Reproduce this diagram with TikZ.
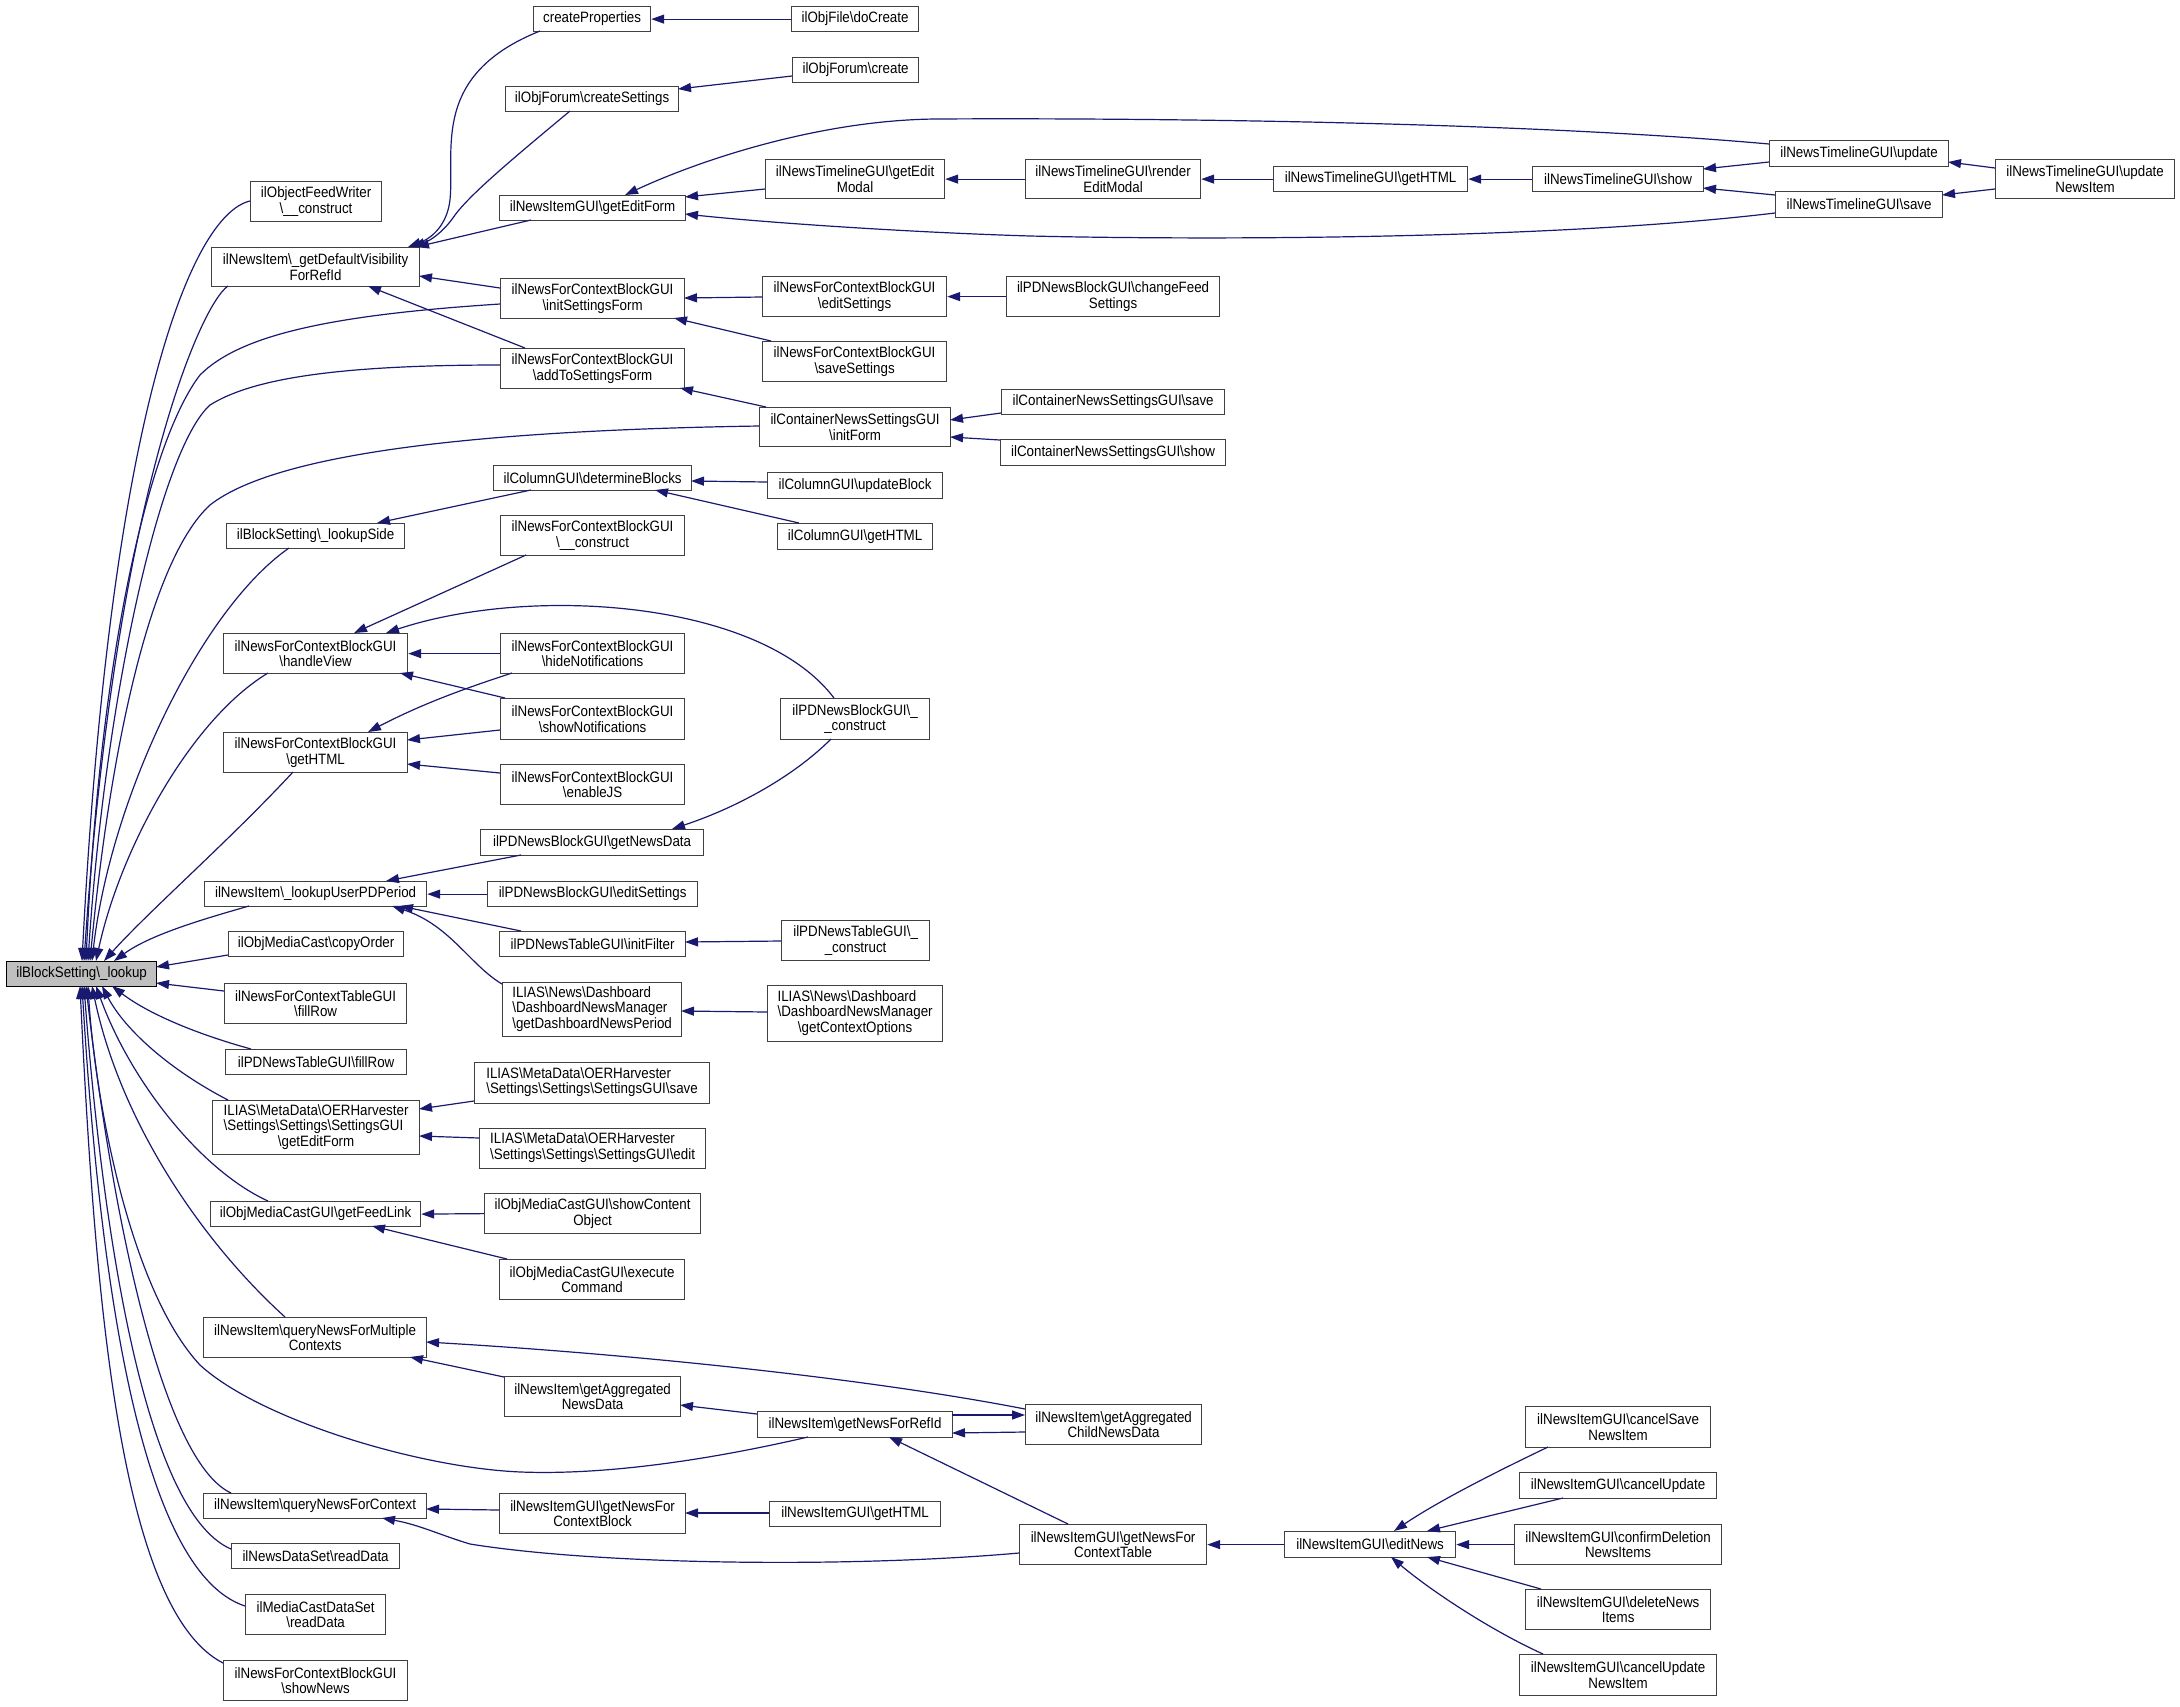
\documentclass[tikz,border=0pt]{standalone}
\usepackage{fontspec}
\setmainfont{Liberation Sans}[FakeStretch=0.89]
\usetikzlibrary{arrows.meta}
\definecolor{edgec}{HTML}{191970}
\definecolor{boxc}{HTML}{404040}
\definecolor{lkgray}{HTML}{BFBFBF}
\newcommand{\BK}{\textbackslash}
\newcommand{\bx}[7][]{\node[box,#1,minimum width={(#5-#3)*1pt},minimum height={(#6-#4)*1pt}] (#2) at (#3,#4) {#7};}
\tikzset{
  box/.style={draw=boxc, line width=1.2pt, fill=white, anchor=north west, inner sep=0pt, align=center, font=\fontsize{15}{15.5}\selectfont},
  e/.style={draw=edgec, line width=1.2pt, -{Triangle[length=13pt,width=9pt]}}
}
\begin{document}
\begin{tikzpicture}[x=1pt,y=-1pt]
\useasboundingbox (0,0) rectangle (2180,1706);
% nodes
\bx[fill=lkgray,draw=black]{lk}{6}{961}{156}{986}{ilBlockSetting\BK\_lookup}
\bx{fw}{250}{181}{381}{221}{ilObjectFeedWriter\\\BK\_\_construct}
\bx{gdv}{211}{247}{419}{286}{ilNewsItem\BK\_getDefaultVisibility\\ForRefId}
\bx{cp}{533}{6}{650}{31}{createProperties}
\bx{cs}{505}{86}{678}{111}{ilObjForum\BK createSettings}
\bx{gef}{499}{195}{685}{220}{ilNewsItemGUI\BK getEditForm}
\bx{isf}{500}{278}{684}{318}{ilNewsForContextBlockGUI\\\BK initSettingsForm}
\bx{atsf}{500}{348}{684}{388}{ilNewsForContextBlockGUI\\\BK addToSettingsForm}
\bx{db}{493}{465}{691}{490}{ilColumnGUI\BK determineBlocks}
\bx{ls}{226}{523}{404}{548}{ilBlockSetting\BK\_lookupSide}
\bx{nfcc}{500}{515}{684}{555}{ilNewsForContextBlockGUI\\\BK\_\_construct}
\bx{dc}{791}{6}{918}{31}{ilObjFile\BK doCreate}
\bx{fc}{792}{57}{918}{82}{ilObjForum\BK create}
\bx{gem}{765}{159}{944}{198}{ilNewsTimelineGUI\BK getEdit\\Modal}
\bx{rem}{1025}{159}{1200}{198}{ilNewsTimelineGUI\BK render\\EditModal}
\bx{ntgh}{1273}{166}{1467}{191}{ilNewsTimelineGUI\BK getHTML}
\bx{nts}{1532}{166}{1703}{191}{ilNewsTimelineGUI\BK show}
\bx{ntu}{1769}{140}{1948}{166}{ilNewsTimelineGUI\BK update}
\bx{ntsv}{1775}{191}{1942}{217}{ilNewsTimelineGUI\BK save}
\bx{ntuni}{1995}{159}{2174}{198}{ilNewsTimelineGUI\BK update\\NewsItem}
\bx{es}{762}{276}{946}{316}{ilNewsForContextBlockGUI\\\BK editSettings}
\bx{cfs}{1006}{276}{1219}{316}{ilPDNewsBlockGUI\BK changeFeed\\Settings}
\bx{ss}{762}{341}{946}{381}{ilNewsForContextBlockGUI\\\BK saveSettings}
\bx{cif}{759}{407}{950}{446}{ilContainerNewsSettingsGUI\\\BK initForm}
\bx{csave}{1001}{389}{1224}{414}{ilContainerNewsSettingsGUI\BK save}
\bx{cshow}{1000}{439}{1225}{465}{ilContainerNewsSettingsGUI\BK show}
\bx{ub}{767}{472}{942}{498}{ilColumnGUI\BK updateBlock}
\bx{cgh}{777}{523}{932}{549}{ilColumnGUI\BK getHTML}
\bx{hv}{223}{633}{407}{673}{ilNewsForContextBlockGUI\\\BK handleView}
\bx{hn}{500}{633}{684}{673}{ilNewsForContextBlockGUI\\\BK hideNotifications}
\bx{sn}{500}{698}{684}{739}{ilNewsForContextBlockGUI\\\BK showNotifications}
\bx{gh}{223}{732}{407}{772}{ilNewsForContextBlockGUI\\\BK getHTML}
\bx{ejs}{500}{764}{684}{804}{ilNewsForContextBlockGUI\\\BK enableJS}
\bx{pdc}{780}{698}{929}{739}{ilPDNewsBlockGUI\BK\_\\\_construct}
\bx{gnd}{480}{829}{703}{855}{ilPDNewsBlockGUI\BK getNewsData}
\bx{lup}{204}{881}{426}{906}{ilNewsItem\BK\_lookupUserPDPeriod}
\bx{pdes}{487}{881}{697}{906}{ilPDNewsBlockGUI\BK editSettings}
\bx{co}{228}{931}{403}{956}{ilObjMediaCast\BK copyOrder}
\bx{inf}{499}{931}{685}{956}{ilPDNewsTableGUI\BK initFilter}
\bx{ptc}{781}{920}{929}{960}{ilPDNewsTableGUI\BK\_\\\_construct}
\bx{nfr}{224}{983}{406}{1023}{ilNewsForContextTableGUI\\\BK fillRow}
\bx{gdnp}{502}{982}{681}{1036}{\begin{tabular}{@{}l@{}}ILIAS\BK News\BK Dashboard\\\BK DashboardNewsManager\\\BK getDashboardNewsPeriod\end{tabular}}
\bx{gcopt}{767}{985}{942}{1041}{\begin{tabular}{@{}l@{}}ILIAS\BK News\BK Dashboard\\\BK DashboardNewsManager\\\multicolumn{1}{@{}c@{}}{\BK getContextOptions}\end{tabular}}
\bx{pfr}{225}{1049}{406}{1074}{ilPDNewsTableGUI\BK fillRow}
\bx{oers}{474}{1062}{709}{1103}{\begin{tabular}{@{}l@{}}ILIAS\BK MetaData\BK OERHarvester\\\BK Settings\BK Settings\BK SettingsGUI\BK save\end{tabular}}
\bx{oege}{212}{1100}{419}{1154}{\begin{tabular}{@{}l@{}}ILIAS\BK MetaData\BK OERHarvester\\\BK Settings\BK Settings\BK SettingsGUI\\\multicolumn{1}{@{}c@{}}{\BK getEditForm}\end{tabular}}
\bx{oee}{479}{1128}{705}{1168}{\begin{tabular}{@{}l@{}}ILIAS\BK MetaData\BK OERHarvester\\\BK Settings\BK Settings\BK SettingsGUI\BK edit\end{tabular}}
\bx{gfl}{210}{1201}{420}{1226}{ilObjMediaCastGUI\BK getFeedLink}
\bx{sco}{484}{1193}{700}{1233}{ilObjMediaCastGUI\BK showContent\\Object}
\bx{ec}{499}{1259}{684}{1299}{ilObjMediaCastGUI\BK execute\\Command}
\bx{qnfm}{203}{1317}{426}{1357}{ilNewsItem\BK queryNewsForMultiple\\Contexts}
\bx{gand}{504}{1376}{680}{1416}{ilNewsItem\BK getAggregated\\NewsData}
\bx{gnfr}{757}{1411}{952}{1437}{ilNewsItem\BK getNewsForRefId}
\bx{gacnd}{1025}{1404}{1201}{1444}{ilNewsItem\BK getAggregated\\ChildNewsData}
\bx{qnfc}{203}{1493}{426}{1518}{ilNewsItem\BK queryNewsForContext}
\bx{gnfcb}{499}{1493}{685}{1533}{ilNewsItemGUI\BK getNewsFor\\ContextBlock}
\bx{nigh}{769}{1501}{940}{1526}{ilNewsItemGUI\BK getHTML}
\bx{gnfct}{1019}{1524}{1206}{1564}{ilNewsItemGUI\BK getNewsFor\\ContextTable}
\bx{en}{1284}{1531}{1455}{1557}{ilNewsItemGUI\BK editNews}
\bx{csn}{1525}{1406}{1710}{1447}{ilNewsItemGUI\BK cancelSave\\NewsItem}
\bx{cu}{1519}{1472}{1716}{1498}{ilNewsItemGUI\BK cancelUpdate}
\bx{cdn}{1514}{1524}{1721}{1564}{ilNewsItemGUI\BK confirmDeletion\\NewsItems}
\bx{dni}{1525}{1589}{1710}{1629}{ilNewsItemGUI\BK deleteNews\\Items}
\bx{cuni}{1519}{1654}{1716}{1695}{ilNewsItemGUI\BK cancelUpdate\\NewsItem}
\bx{ndr}{231}{1543}{399}{1568}{ilNewsDataSet\BK readData}
\bx{mcr}{245}{1594}{385}{1634}{ilMediaCastDataSet\\\BK readData}
\bx{snw}{223}{1660}{407}{1700}{ilNewsForContextBlockGUI\\\BK showNews}
% edges into lookup (from above)
\draw[e] ([shift={(0,20)}]fw.north west) .. controls (190,215) and (110,420) .. ([shift={(76,0)}]lk.north west);
\draw[e] ([shift={(17,39)}]gdv.north west) .. controls (200,305) and (115,500) .. ([shift={(78,0)}]lk.north west);
\draw[e] ([shift={(0,26)}]isf.north west) .. controls (330,315) and (240,335) .. (200,375) .. controls (150,440) and (100,650) .. ([shift={(80,0)}]lk.north west);
\draw[e] ([shift={(0,17)}]atsf.north west) .. controls (330,365) and (250,380) .. (210,405) .. controls (160,450) and (105,700) .. ([shift={(82,0)}]lk.north west);
\draw[e] ([shift={(0,19)}]cif.north west) .. controls (500,430) and (280,450) .. (210,505) .. controls (150,560) and (110,750) .. ([shift={(84,0)}]lk.north west);
\draw[e] ([shift={(63,25)}]ls.north west) .. controls (200,610) and (110,800) .. ([shift={(86,0)}]lk.north west);
\draw[e] ([shift={(45,40)}]hv.north west) .. controls (190,720) and (120,850) .. ([shift={(90,0)}]lk.north west);
\draw[e] ([shift={(70,40)}]gh.north west) .. controls (230,840) and (150,910) .. ([shift={(98,0)}]lk.north west);
\draw[e] ([shift={(45,25)}]lup.north west) .. controls (200,920) and (150,935) .. ([shift={(108,0)}]lk.north west);
\draw[e] ([shift={(0,24)}]co.north west) -- ([shift={(150,6)}]lk.north west);
\draw[e] ([shift={(0,8)}]nfr.north west) -- ([shift={(150,22)}]lk.north west);
% edges into lookup (from below)
\draw[e] ([shift={(26,0)}]pfr.north west) .. controls (200,1035) and (150,1015) .. ([shift={(106,25)}]lk.north west);
\draw[e] ([shift={(16,0)}]oege.north west) .. controls (170,1070) and (125,1030) .. ([shift={(96,25)}]lk.north west);
\draw[e] ([shift={(58,0)}]gfl.north west) .. controls (200,1170) and (130,1080) .. ([shift={(90,25)}]lk.north west);
\draw[e] ([shift={(82,0)}]qnfm.north west) .. controls (200,1240) and (120,1120) .. ([shift={(86,25)}]lk.north west);
\draw[e] ([shift={(51,26)}]gnfr.north west) .. controls (700,1462) and (600,1475) .. (521,1472) .. controls (420,1468) and (260,1420) .. (200,1365) .. controls (130,1290) and (95,1100) .. ([shift={(82,25)}]lk.north west);
\draw[e] ([shift={(28,0)}]qnfc.north west) .. controls (160,1460) and (110,1200) .. ([shift={(80,25)}]lk.north west);
\draw[e] ([shift={(0,6)}]ndr.north west) .. controls (140,1510) and (100,1200) .. ([shift={(78,25)}]lk.north west);
\draw[e] ([shift={(0,12)}]mcr.north west) .. controls (135,1570) and (98,1250) .. ([shift={(76,25)}]lk.north west);
\draw[e] ([shift={(0,3)}]snw.north west) .. controls (120,1610) and (95,1300) .. ([shift={(74,25)}]lk.north west);
% getDefaultVisibility
\draw[e] ([shift={(7,25)}]cp.north west) .. controls (430,75) and (455,150) .. (450,200) .. controls (447,225) and (432,238) .. ([shift={(197,0)}]gdv.north west);
\draw[e] ([shift={(65,25)}]cs.north west) .. controls (505,165) and (470,195) .. (455,215) .. controls (445,230) and (432,240) .. ([shift={(201,0)}]gdv.north west);
\draw[e] ([shift={(32,25)}]gef.north west) -- ([shift={(205,0)}]gdv.north west);
\draw[e] ([shift={(0,10)}]isf.north west) -- ([shift={(208,29)}]gdv.north west);
\draw[e] ([shift={(25,0)}]atsf.north west) -- ([shift={(157,39)}]gdv.north west);
% top right region
\draw[e] (dc.west) -- (cp.east);
\draw[e] ([shift={(0,19)}]fc.north west) -- ([shift={(173,3)}]cs.north west);
\draw[e] ([shift={(0,30)}]gem.north west) -- ([shift={(186,2)}]gef.north west);
\draw[e] ([shift={(0,4)}]ntu.north west) .. controls (1500,120) and (1100,118) .. (936,119) .. controls (820,120) and (700,160) .. ([shift={(126,0)}]gef.north west);
\draw[e] ([shift={(0,22)}]ntsv.north west) .. controls (1550,240) and (1200,240) .. (1030,236) .. controls (900,232) and (760,222) .. ([shift={(186,19)}]gef.north west);
\draw[e] (rem.west) -- (gem.east);
\draw[e] (ntgh.west) -- (rem.east);
\draw[e] (nts.west) -- (ntgh.east);
\draw[e] ([shift={(0,22)}]ntu.north west) -- ([shift={(171,3)}]nts.north west);
\draw[e] ([shift={(0,4)}]ntsv.north west) -- ([shift={(171,22)}]nts.north west);
\draw[e] ([shift={(0,9)}]ntuni.north west) -- ([shift={(179,22)}]ntu.north west);
\draw[e] ([shift={(0,30)}]ntuni.north west) -- ([shift={(167,4)}]ntsv.north west);
\draw[e] ([shift={(0,21)}]es.north west) -- ([shift={(184,20)}]isf.north west);
\draw[e] ([shift={(9,0)}]ss.north west) -- ([shift={(174,40)}]isf.north west);
\draw[e] (cfs.west) -- (es.east);
\draw[e] ([shift={(7,0)}]cif.north west) -- ([shift={(180,40)}]atsf.north west);
\draw[e] ([shift={(0,24)}]csave.north west) -- ([shift={(191,13)}]cif.north west);
\draw[e] ([shift={(0,1)}]cshow.north west) -- ([shift={(191,30)}]cif.north west);
\draw[e] ([shift={(0,10)}]ub.north west) -- ([shift={(198,16)}]db.north west);
\draw[e] ([shift={(22,0)}]cgh.north west) -- ([shift={(162,25)}]db.north west);
\draw[e] ([shift={(38,25)}]db.north west) -- ([shift={(151,0)}]ls.north west);
% handleView / getHTML
\draw[e] ([shift={(26,40)}]nfcc.north west) -- ([shift={(131,0)}]hv.north west);
\draw[e] (hn.west) -- (hv.east);
\draw[e] ([shift={(5,0)}]sn.north west) -- ([shift={(177,40)}]hv.north west);
\draw[e] ([shift={(54,0)}]pdc.north west) .. controls (760,600) and (530,585) .. ([shift={(163,0)}]hv.north west);
\draw[e] ([shift={(12,40)}]hn.north west) .. controls (460,690) and (420,705) .. ([shift={(145,0)}]gh.north west);
\draw[e] ([shift={(0,32)}]sn.north west) -- ([shift={(184,8)}]gh.north west);
\draw[e] ([shift={(0,9)}]ejs.north west) -- ([shift={(184,32)}]gh.north west);
\draw[e] ([shift={(51,41)}]pdc.north west) .. controls (790,780) and (730,810) .. ([shift={(192,0)}]gnd.north west);
% lookupUserPDPeriod
\draw[e] ([shift={(41,26)}]gnd.north west) -- ([shift={(182,0)}]lup.north west);
\draw[e] (pdes.west) -- (lup.east);
\draw[e] ([shift={(22,0)}]inf.north west) -- ([shift={(196,25)}]lup.north west);
\draw[e] ([shift={(0,2)}]gdnp.north west) .. controls (470,965) and (450,925) .. ([shift={(188,25)}]lup.north west);
\draw[e] ([shift={(0,21)}]ptc.north west) -- ([shift={(186,11)}]inf.north west);
\draw[e] ([shift={(0,27)}]gcopt.north west) -- ([shift={(179,29)}]gdnp.north west);
% OER / media cast
\draw[e] ([shift={(0,39)}]oers.north west) -- ([shift={(207,9)}]oege.north west);
\draw[e] ([shift={(0,10)}]oee.north west) -- ([shift={(207,36)}]oege.north west);
\draw[e] (sco.west) -- (gfl.east);
\draw[e] ([shift={(8,0)}]ec.north west) -- ([shift={(162,25)}]gfl.north west);
% news queries
\draw[e] ([shift={(0,5)}]gacnd.north west) .. controls (850,1375) and (600,1352) .. ([shift={(223,25)}]qnfm.north west);
\draw[e] ([shift={(0,1)}]gand.north west) -- ([shift={(207,40)}]qnfm.north west);
\draw[e] ([shift={(0,3)}]gnfr.north west) -- ([shift={(176,29)}]gand.north west);
\draw[e] ([shift={(195,4)}]gnfr.north west) -- ([shift={(0,11)}]gacnd.north west);
\draw[e] ([shift={(0,28)}]gacnd.north west) -- ([shift={(195,22)}]gnfr.north west);
\draw[e] ([shift={(49,0)}]gnfct.north west) -- ([shift={(132,26)}]gnfr.north west);
\draw[e] (en.west) -- (gnfct.east);
\draw[e] ([shift={(0,12)}]nigh.north west) -- ([shift={(186,20)}]gnfcb.north west);
\draw[e] ([shift={(0,17)}]gnfcb.north west) -- ([shift={(223,16)}]qnfc.north west);
\draw[e] ([shift={(0,29)}]gnfct.north west) .. controls (850,1568) and (600,1565) .. (470,1544) .. controls (440,1535) and (420,1525) .. ([shift={(179,25)}]qnfc.north west);
% editNews
\draw[e] ([shift={(23,41)}]csn.north west) .. controls (1500,1470) and (1440,1500) .. ([shift={(110,0)}]en.north west);
\draw[e] ([shift={(44,26)}]cu.north west) -- ([shift={(143,0)}]en.north west);
\draw[e] (cdn.west) -- (en.east);
\draw[e] ([shift={(16,0)}]dni.north west) -- ([shift={(143,26)}]en.north west);
\draw[e] ([shift={(24,0)}]cuni.north west) .. controls (1490,1630) and (1430,1590) .. ([shift={(107,26)}]en.north west);
\end{tikzpicture}
\end{document}
